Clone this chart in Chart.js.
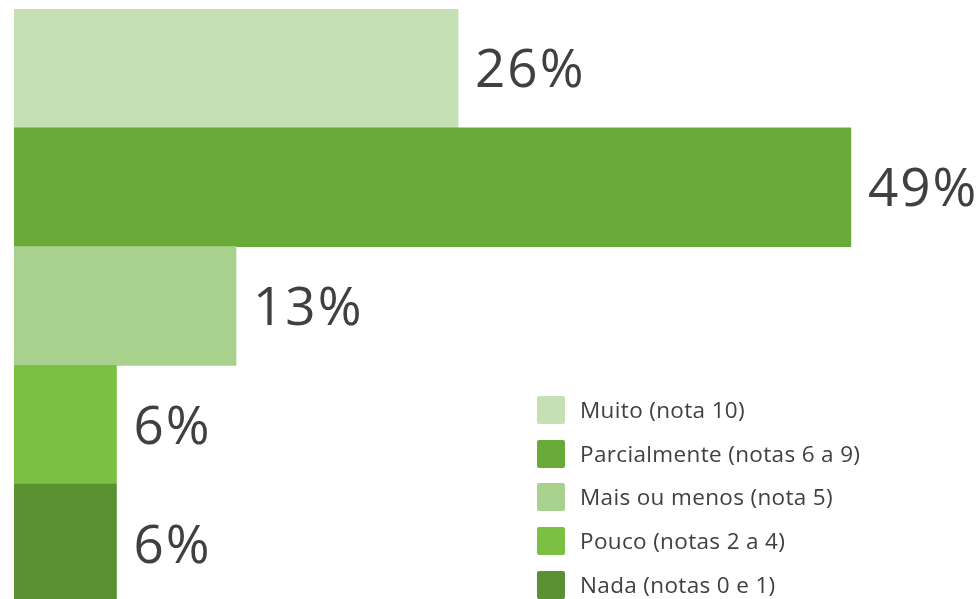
<!DOCTYPE html>
<html>
<head>
<meta charset="utf-8">
<script src="https://cdn.jsdelivr.net/npm/chart.js@4"></script>
<style>
  html,body{margin:0;padding:0;background:#fff;overflow:hidden;}
  #wrap{position:relative;width:980px;height:599px;overflow:hidden;}
  #wrap canvas{position:absolute;left:0;top:0;}
  #legend{position:absolute;left:537px;top:396px;font-family:"Open Sans",sans-serif;font-size:22.5px;letter-spacing:0.35px;color:#404040;}
  #legend div{height:43.7px;position:relative;}
  #legend span.box{position:absolute;left:0;top:0;width:28px;height:28px;border-radius:2px;}
  #legend span.txt{position:absolute;left:43px;top:0px;line-height:28px;white-space:nowrap;}
</style>
</head>
<body>
<div id="wrap">
  <canvas id="chartCanvas" width="980" height="603"></canvas>
  <div id="legend"></div>
</div>
<script>
const categories = ["Muito (nota 10)", "Parcialmente (notas 6 a 9)", "Mais ou menos (nota 5)", "Pouco (notas 2 a 4)", "Nada (notas 0 e 1)"];
const values = [26, 49, 13, 6, 6];
const barColors = ["#c5e0b4", "#6aaa38", "#a9d18e", "#7bc043", "#5a9132"];

/* value labels at the bar ends */
const endLabels = {
  id: 'endLabels',
  afterDatasetsDraw(chart){
    const ctx = chart.ctx;
    const meta = chart.getDatasetMeta(0);
    ctx.save();
    ctx.font = '53px "Open Sans", sans-serif';
    ctx.letterSpacing = '2px';
    ctx.fillStyle = '#404040';
    ctx.textBaseline = 'middle';
    ctx.textAlign = 'left';
    meta.data.forEach((bar,i)=>{
      ctx.fillText(values[i] + "%", bar.x + 17, bar.y + 4);
    });
    ctx.restore();
  }
};

new Chart(chartCanvas, {
  type: 'bar',
  data: {
    labels: categories,
    datasets: [{
      data: values,
      backgroundColor: barColors,
      borderWidth: 0,
      barPercentage: 1,
      categoryPercentage: 1
    }]
  },
  options: {
    indexAxis: 'y',
    responsive: false,
    animation: false,
    layout: { padding: { left: 14, top: 9, right: 0, bottom: 0 } },
    scales: {
      x: { display: false, min: 0, max: 56.56 },
      y: { display: false }
    },
    plugins: {
      legend: { display: false },
      tooltip: { enabled: false }
    }
  },
  plugins: [endLabels]
});

/* legend */
categories.forEach((c,i)=>{
  const row = document.createElement('div');
  row.innerHTML = '<span class="box" style="background:' + barColors[i] + '"></span><span class="txt">' + c + '</span>';
  legend.appendChild(row);
});
</script>
</body>
</html>
